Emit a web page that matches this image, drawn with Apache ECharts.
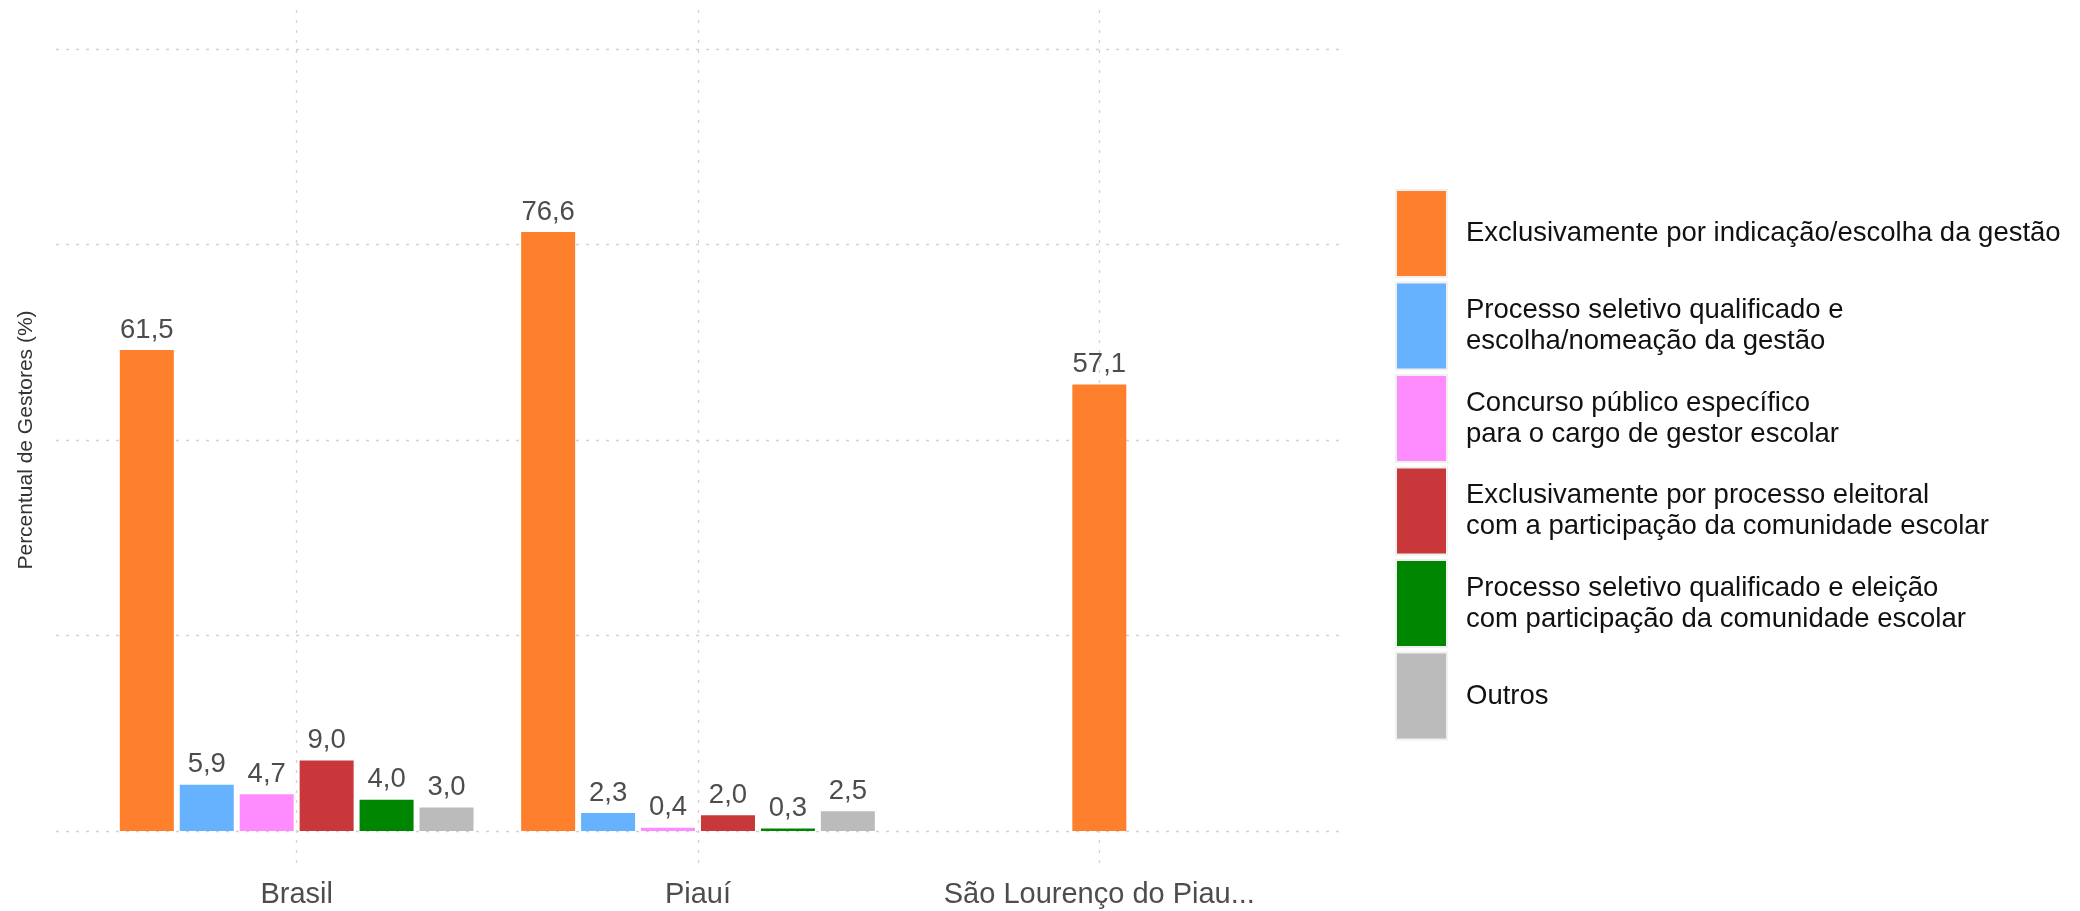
<!DOCTYPE html>
<html>
<head>
<meta charset="utf-8">
<script src="https://cdn.jsdelivr.net/npm/echarts@6/dist/echarts.min.js"></script>
<style>
  html, body { margin: 0; padding: 0; background: #fff; }
  #chartArea { width: 2080px; height: 911px; }
</style>
</head>
<body>
<div id="chartArea"></div>
<script>
// categorias do eixo X
const categorias = ['Brasil', 'Piauí', 'São Lourenço do Piau...'];

// formas de acesso ao cargo (legenda)
const formas = [
  'Exclusivamente por indicação/escolha da gestão',
  'Processo seletivo qualificado e\nescolha/nomeação da gestão',
  'Concurso público específico\npara o cargo de gestor escolar',
  'Exclusivamente por processo eleitoral\ncom a participação da comunidade escolar',
  'Processo seletivo qualificado e eleição\ncom participação da comunidade escolar',
  'Outros'
];
const cores = ['#fe7f2c', '#66b2ff', '#ff8cff', '#c8373a', '#008500', '#bbbbbb'];

// percentual de gestores (Brasil, Piauí, São Lourenço)
const indicacao = [61.5, 76.6, 57.1];
const seletivoEscolha = [5.9, 2.3, null];
const concurso = [4.7, 0.4, null];
const eleitoral = [9.0, 2.0, null];
const seletivoEleicao = [4.0, 0.3, null];
const outros = [3.0, 2.5, null];

const valores = [indicacao, seletivoEscolha, concurso, eleitoral, seletivoEleicao, outros];

// categoria com uma única barra fica centralizada (eixo X auxiliar)
const sozinho = categorias.map((c, i) => valores.filter(v => v[i] != null).length === 1);

const fonte = 'Liberation Sans, Arial, Helvetica, sans-serif';
const gridLine = { color: '#d2d2d2', width: 1.3, type: [3, 7] };

function rotulo() {
  return {
    show: true,
    position: 'top',
    distance: 6,
    color: '#4d4d4d',
    fontSize: 27.5,
    fontFamily: fonte,
    formatter: p => p.value.toFixed(1).replace('.', ',')
  };
}

let series = [];
valores.forEach((arr, k) => {
  series.push({
    name: formas[k],
    type: 'bar',
    xAxisIndex: 0,
    yAxisIndex: 0,
    barWidth: 54,
    barGap: '11%',
    itemStyle: { color: cores[k] },
    label: rotulo(),
    data: arr.map((v, i) => sozinho[i] ? null : v)
  });
});
valores.forEach((arr, k) => {
  const solo = arr.map((v, i) => sozinho[i] ? v : null);
  if (solo.some(v => v != null)) {
    series.push({
      name: formas[k],
      type: 'bar',
      xAxisIndex: 1,
      yAxisIndex: 0,
      barWidth: 54,
      itemStyle: { color: cores[k] },
      label: rotulo(),
      data: solo
    });
  }
});

const chartDom = document.getElementById('chartArea');
let myChart = echarts.init(chartDom);
let option;

option = {
  animation: false,
  backgroundColor: '#ffffff',
  grid: [
    // barras
    { left: 96, right: 780, top: 10, bottom: 41 },
    // linhas horizontais
    { left: 56, right: 740, top: 49, bottom: 80 }
  ],
  legend: {
    orient: 'vertical',
    left: 1395,
    top: 189,
    padding: 0,
    itemWidth: 51,
    itemHeight: 87,
    itemGap: 3.5,
    icon: 'rect',
    data: formas,
    itemStyle: { borderColor: '#f0f0f0', borderWidth: 2 },
    textStyle: {
      color: '#111',
      fontSize: 27.5,
      lineHeight: 31,
      fontFamily: fonte,
      padding: [0, 0, 0, 14]
    }
  },
  xAxis: [
    {
      type: 'category',
      gridIndex: 0,
      data: categorias,
      axisLine: { show: false },
      axisTick: { show: false },
      axisLabel: { color: '#4d4d4d', fontSize: 29, fontFamily: fonte, margin: 10, interval: 0 },
      splitLine: { show: true, alignWithLabel: true, interval: 0, lineStyle: gridLine }
    },
    {
      type: 'category',
      gridIndex: 0,
      data: categorias,
      show: false
    },
    {
      type: 'category',
      gridIndex: 1,
      data: categorias,
      show: false
    }
  ],
  yAxis: [
    {
      type: 'value',
      gridIndex: 0,
      min: -5,
      max: 105,
      show: false,
      splitLine: { show: false }
    },
    {
      type: 'value',
      gridIndex: 1,
      min: 0,
      max: 100,
      interval: 25,
      name: 'Percentual de Gestores (%)',
      nameLocation: 'middle',
      nameGap: 19,
      nameTextStyle: { color: '#333', fontSize: 21, fontFamily: fonte },
      axisLine: { show: false },
      axisTick: { show: false },
      axisLabel: { show: false },
      splitLine: { show: true, lineStyle: gridLine }
    }
  ],
  series: series
};

option && myChart.setOption(option);
</script>
</body>
</html>
